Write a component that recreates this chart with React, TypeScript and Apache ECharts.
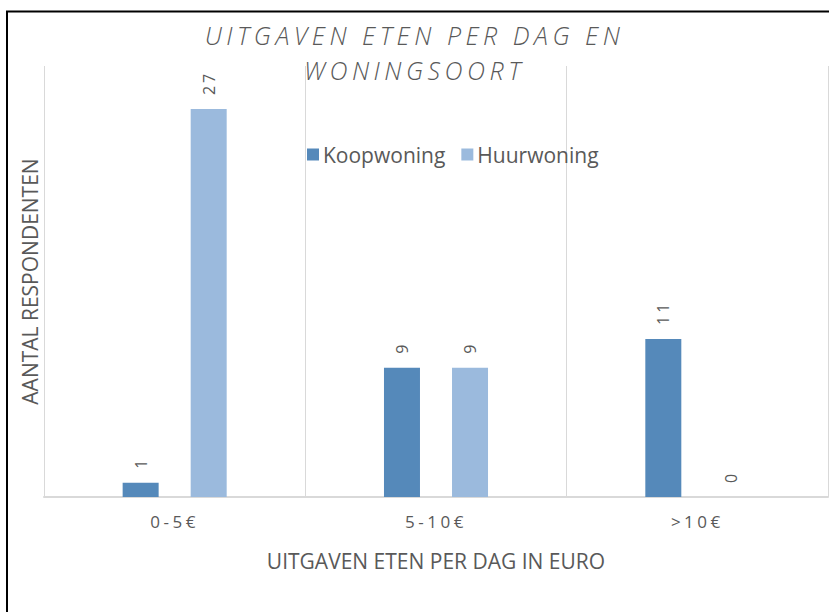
import React, { useEffect, useRef } from "react";
import * as echarts from "echarts";

const categories = ["0-5€", "5-10€", ">10€"];
const koopwoning = [1, 9, 11];
const huurwoning = [27, 9, 0];
const seriesNames = ["Koopwoning", "Huurwoning"];
const titleLines = ["UITGAVEN ETEN PER DAG EN", "WONINGSOORT"];
const xAxisName = "UITGAVEN ETEN PER DAG IN EURO";
const yAxisName = "AANTAL RESPONDENTEN";

const FONT = "Open Sans";
const TEXT = "#595959";
const GRID = "#d9d9d9";

function spaceTexts(root: HTMLElement | null) {
  if (!root) return;
  root.querySelectorAll("text").forEach((t) => {
    const s = (t.textContent || "").trim();
    if (titleLines.includes(s)) t.setAttribute("letter-spacing", "4.5");
    else if (categories.includes(s)) t.setAttribute("letter-spacing", "3.5");
    else if (/^\d+$/.test(s)) t.setAttribute("letter-spacing", "3");
  });
}

export default function App() {
  const ref = useRef<HTMLDivElement>(null);
  useEffect(() => {
    document.body.style.margin = "0";
    const chart = echarts.init(ref.current!, null, { renderer: "svg" });
    const label = {
      show: true,
      position: "top",
      rotate: 90,
      align: "left",
      verticalAlign: "middle",
      distance: 14,
      color: TEXT,
      fontSize: 16,
      fontFamily: FONT,
    };
    chart.on("finished", () => spaceTexts(ref.current));
    chart.setOption({
      animation: false,
      backgroundColor: "#ffffff",
      title: {
        text: titleLines.join("\n"),
        left: "center",
        top: 12,
        textStyle: {
          fontFamily: FONT,
          fontStyle: "italic",
          fontWeight: 300,
          fontSize: 25,
          lineHeight: 35,
          color: TEXT,
        },
      },
      legend: {
        data: seriesNames,
        top: 139,
        left: 302,
        itemWidth: 12,
        itemHeight: 12,
        itemGap: 16,
        icon: "rect",
        textStyle: { fontFamily: FONT, fontSize: 21, color: TEXT, padding: [0, 0, 0, -1] },
      },
      grid: { left: 44, right: 1, top: 66, bottom: 115, containLabel: false },
      xAxis: {
        type: "category",
        data: categories,
        name: xAxisName,
        nameLocation: "middle",
        nameGap: 53,
        nameTextStyle: { fontFamily: FONT, fontSize: 21, color: TEXT },
        axisLine: { lineStyle: { color: GRID, width: 2 } },
        axisTick: { show: false },
        axisLabel: { fontFamily: FONT, fontSize: 17, color: TEXT, margin: 16 },
        splitLine: { show: true, lineStyle: { color: GRID, width: 1 } },
      },
      yAxis: {
        type: "value",
        min: 0,
        max: 30,
        interval: 5,
        name: yAxisName,
        nameLocation: "middle",
        nameGap: 4,
        nameRotate: 90,
        nameTextStyle: { fontFamily: FONT, fontSize: 21, color: TEXT },
        axisLine: { show: false },
        axisTick: { show: false },
        axisLabel: { show: false },
        splitLine: { show: false },
      },
      series: [
        {
          name: seriesNames[0],
          type: "bar",
          data: koopwoning,
          barWidth: 36,
          barGap: "89%",
          itemStyle: { color: "#5589ba" },
          label,
        },
        {
          name: seriesNames[1],
          type: "bar",
          data: huurwoning,
          barWidth: 36,
          itemStyle: { color: "#9bbadd" },
          label,
        },
      ],
      graphic: [
        {
          type: "line",
          shape: { x1: 6, y1: 11.5, x2: 829, y2: 11.5 },
          style: { stroke: "#000000", lineWidth: 2 },
          z: 10,
        },
        {
          type: "line",
          shape: { x1: 7, y1: 11, x2: 7, y2: 612 },
          style: { stroke: "#000000", lineWidth: 2 },
          z: 10,
        },
      ],
    });
    spaceTexts(ref.current);
    const timer = setTimeout(() => spaceTexts(ref.current), 50);
    return () => {
      clearTimeout(timer);
      chart.dispose();
    };
  }, []);
  return <div ref={ref} style={{ width: 829, height: 612 }} />;
}
